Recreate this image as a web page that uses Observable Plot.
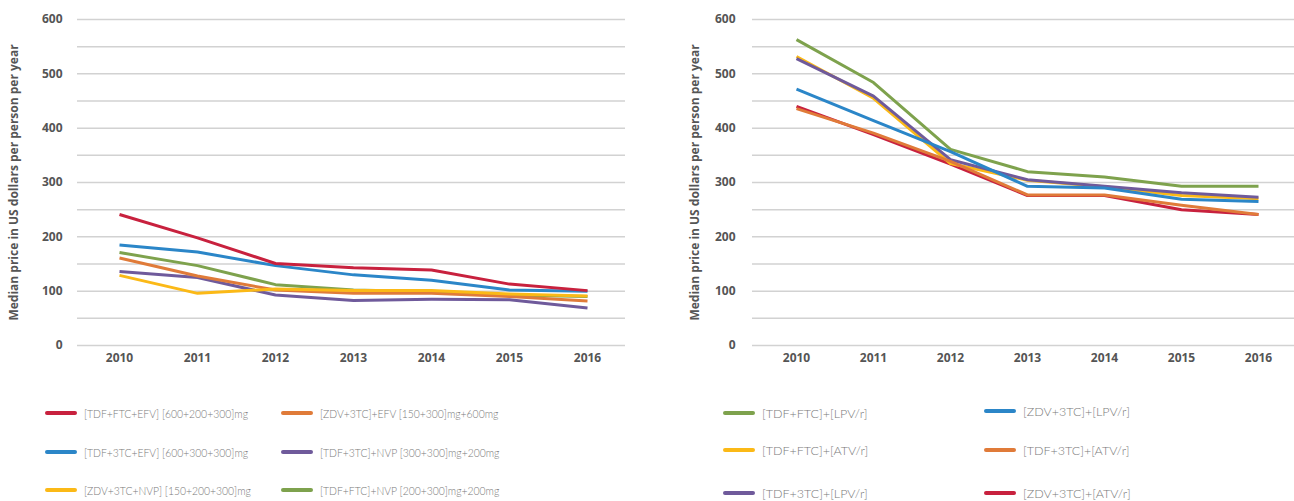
<!DOCTYPE html>
<html><head><meta charset="utf-8">
<script src="https://cdn.jsdelivr.net/npm/d3@7"></script>
<script src="https://cdn.jsdelivr.net/npm/@observablehq/plot@0.6"></script>
<style>
body{margin:0;background:#fff;width:1294px;height:501px;overflow:hidden;position:relative;font-family:"Open Sans",sans-serif}
#left{position:absolute;left:0;top:0}
#right{position:absolute;left:660px;top:0}
.leg{position:absolute;font-family:Lato,sans-serif;font-weight:300;font-size:12.5px;color:#7a7a7a;display:flex;align-items:center;white-space:nowrap;height:16px}
.sw{width:32px;height:4px;border-radius:2px;margin-right:7px;flex:none}
.txt{display:inline-block;transform-origin:left center}
</style></head><body>
<div id="left"></div><div id="right"></div><div id="legend"></div>
<script>
const years = [2010, 2011, 2012, 2013, 2014, 2015, 2016];
const yTicks = [0, 100, 200, 300, 400, 500, 600];
const gridValues = [0, 50, 100, 150, 200, 250, 300, 350, 400, 450, 500, 550, 600];
const yLabel = "Median price in US dollars per person per year";

// Left chart: first-line regimens
const leftNames = ["[TDF+FTC+EFV] [600+200+300]mg", "[ZDV+3TC]+EFV [150+300]mg+600mg", "[TDF+3TC+EFV] [600+300+300]mg", "[TDF+3TC]+NVP [300+300]mg+200mg", "[ZDV+3TC+NVP] [150+200+300]mg", "[TDF+FTC]+NVP [200+300]mg+200mg"];
const leftColors = ["#c8213e", "#e07b39", "#2b86c8", "#6f5a9b", "#fbb917", "#7ea24d"];
const leftRed    = [241, 198, 151, 143, 139, 113, 101];
const leftOrange = [161, 128, 102, 96, 96, 90, 82];
const leftBlue   = [185, 172, 147, 130, 120, 102, 100];
const leftPurple = [136, 125, 93, 83, 85, 84, 69];
const leftYellow = [129, 96, 104, 101, 101, 95, 91];
const leftGreen  = [171, 147, 112, 102, 99, 93, 90];
const leftValues = [leftRed, leftOrange, leftBlue, leftPurple, leftYellow, leftGreen];
const leftDrawOrder = [3, 5, 1, 4, 2, 0];

// Right chart: second-line regimens
const rightNames = ["[TDF+FTC]+[LPV/r]", "[ZDV+3TC]+[LPV/r]", "[TDF+FTC]+[ATV/r]", "[TDF+3TC]+[ATV/r]", "[TDF+3TC]+[LPV/r]", "[ZDV+3TC]+[ATV/r]"];
const rightColors = ["#7ea24d", "#2b86c8", "#fbb917", "#e07b39", "#6f5a9b", "#c8213e"];
const rightGreen  = [563, 484, 361, 320, 310, 293, 293];
const rightBlue   = [472, 414, 357, 293, 290, 269, 265];
const rightYellow = [532, 455, 335, 304, 292, 276, 270];
const rightOrange = [436, 391, 339, 277, 277, 258, 241];
const rightPurple = [528, 459, 342, 305, 293, 281, 273];
const rightRed    = [440, 388, 334, 276, 276, 250, 241];
const rightValues = [rightGreen, rightBlue, rightYellow, rightOrange, rightPurple, rightRed];
const rightDrawOrder = [5, 2, 0, 4, 1, 3];

function makeChart(names, colors, values, order, opts) {
  const data = [];
  for (const i of order) {
    years.forEach((yr, j) => data.push({year: yr, value: values[i][j], series: names[i]}));
  }
  return Plot.plot({
    width: opts.width, height: 370,
    marginLeft: opts.marginLeft, marginRight: opts.marginRight, marginTop: 19, marginBottom: 25,
    style: {fontFamily: "'Open Sans', sans-serif", fontSize: "12px", background: "transparent"},
    x: {type: "point", domain: years, range: opts.xRange, padding: 0},
    y: {domain: [0, 600]},
    color: {domain: names, range: colors},
    marks: [
      Plot.ruleY(gridValues, {stroke: "#d2d2d2", strokeWidth: 1.5}),
      Plot.axisY({ticks: yTicks, tickSize: 0, tickPadding: opts.tickPadding, fill: "#555", fontWeight: "bold",
        label: yLabel, labelAnchor: "center", labelArrow: "none", labelOffset: opts.labelOffset}),
      Plot.axisX({tickSize: 0, tickPadding: 8, fill: "#555", fontWeight: "bold", tickFormat: d => String(d), label: null}),
      Plot.line(data, {x: "year", y: "value", z: "series", stroke: "series", strokeWidth: 3, strokeLinejoin: "round", strokeLinecap: "butt"})
    ]
  });
}

document.getElementById("left").append(makeChart(leftNames, leftColors, leftValues, leftDrawOrder,
  {width: 640, marginLeft: 77, marginRight: 15, xRange: [119, 587], tickPadding: 15, labelOffset: 68}));
document.getElementById("right").append(makeChart(rightNames, rightColors, rightValues, rightDrawOrder,
  {width: 634, marginLeft: 92, marginRight: 0, xRange: [133, 600], tickPadding: 17, labelOffset: 62}));

// Legends
const legendItems = [
  {names: leftNames, colors: leftColors, squeeze: 0.83, slots: [[45, 413], [281, 413], [45, 452], [281, 452], [45, 490], [281, 490]]},
  {names: rightNames, colors: rightColors, squeeze: 1, slots: [[723, 413], [984, 411], [723, 450], [984, 450], [723, 493], [984, 493]]}
];
const legend = document.getElementById("legend");
for (const g of legendItems) {
  g.names.forEach((n, i) => {
    const el = document.createElement("div");
    el.className = "leg";
    el.style.left = g.slots[i][0] + "px";
    el.style.top = (g.slots[i][1] - 8) + "px";
    const sw = document.createElement("span");
    sw.className = "sw";
    sw.style.background = g.colors[i];
    const t = document.createElement("span");
    t.className = "txt";
    t.style.transform = `scaleX(${g.squeeze})`;
    t.textContent = n;
    el.append(sw, t);
    legend.append(el);
  });
}
</script>
</body></html>
